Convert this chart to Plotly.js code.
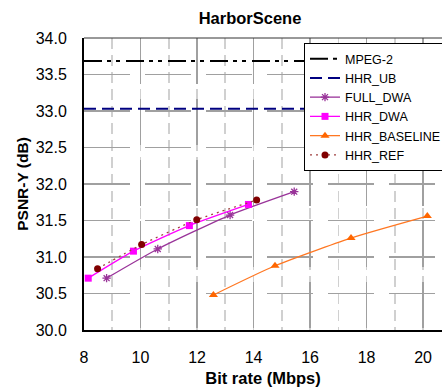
<!DOCTYPE html>
<html>
<head>
<meta charset="utf-8">
<script src="https://cdn.plot.ly/plotly-3.0.1.min.js"></script>
<style>html,body{margin:0;padding:0;background:#fff;}#chart{width:442px;height:387px;}</style>
</head>
<body>
<div id="chart"></div>
<script>
// Data
var refLineX = [8, 22];
var mpeg2Y = [33.685, 33.685];
var hhrUbY = [33.03, 33.03];

var fullDwaX = [8.80, 10.61, 13.17, 15.44];
var fullDwaY = [30.71, 31.11, 31.575, 31.895];

var hhrDwaX = [8.15, 9.75, 11.73, 13.82];
var hhrDwaY = [30.71, 31.08, 31.43, 31.72];

var baselineX = [12.58, 14.76, 17.45, 20.15];
var baselineY = [30.48, 30.88, 31.26, 31.56];

var hhrRefX = [8.48, 10.04, 11.99, 14.11];
var hhrRefY = [30.84, 31.17, 31.51, 31.78];

var xTicks = [8, 10, 12, 14, 16, 18, 20];
var yTicks = [30.0, 30.5, 31.0, 31.5, 32.0, 32.5, 33.0, 33.5, 34.0];

var FONT = 'Liberation Sans, Arial, Helvetica, sans-serif';

var traces = [
  {name: 'MPEG-2', x: refLineX, y: mpeg2Y, mode: 'lines',
   line: {color: '#000000', width: 2, dash: '18px,5px,4px,5px,4px,6px'}},
  {name: 'HHR_UB', x: refLineX, y: hhrUbY, mode: 'lines',
   line: {color: '#000080', width: 2, dash: '12px,6px'}},
  {name: 'FULL_DWA', x: fullDwaX, y: fullDwaY, mode: 'lines+markers',
   line: {color: '#993399', width: 1.3, shape: 'spline', smoothing: 0.6},
   marker: {symbol: 'asterisk-open', size: 7, color: '#993399', line: {color: '#993399', width: 1.3}}},
  {name: 'HHR_DWA', x: hhrDwaX, y: hhrDwaY, mode: 'lines+markers',
   line: {color: '#ff00ff', width: 1.3, shape: 'spline', smoothing: 0.6},
   marker: {symbol: 'square', size: 7, color: '#ff00ff'}},
  {name: 'HHR_BASELINE', x: baselineX, y: baselineY, mode: 'lines+markers',
   line: {color: '#ff7722', width: 1.3, shape: 'spline', smoothing: 0.6},
   marker: {symbol: 'triangle-up', size: 8, color: '#ff6600'}},
  {name: 'HHR_REF', x: hhrRefX, y: hhrRefY, mode: 'lines+markers',
   line: {color: '#a04040', width: 1.3, dash: '2px,4px', shape: 'spline', smoothing: 0.6},
   marker: {symbol: 'circle', size: 7, color: '#800000'}}
];

var layout = {
  width: 442, height: 387,
  margin: {l: 84, r: 0, t: 38, b: 57, autoexpand: false},
  paper_bgcolor: '#ffffff', plot_bgcolor: '#ffffff',
  font: {family: FONT, color: '#000000'},
  showlegend: true,
  title: {text: '<b>HarborScene</b>', font: {family: FONT, size: 16.5, color: '#000'},
          x: 250 / 442, xref: 'container', xanchor: 'center', y: 1 - 18 / 387, yref: 'container', yanchor: 'middle'},
  xaxis: {
    range: [8, 20.67], tickvals: xTicks, ticktext: xTicks.map(String),
    ticks: '', ticklabelstandoff: 12,
    tickfont: {family: FONT, size: 16, color: '#000'},
    showline: true, linecolor: '#000', linewidth: 2,
    showgrid: true, gridcolor: '#a0a0a0', gridwidth: 1.2, griddash: '46px,15px',
    minor: {dtick: 1, tick0: 8, showgrid: true, gridcolor: '#d0d0d0', gridwidth: 1.6, griddash: '11px,6px', ticks: ''},
    zeroline: false,
    title: {text: '<b>Bit rate (Mbps)</b>', font: {family: FONT, size: 16.5, color: '#000'}, standoff: 7}
  },
  yaxis: {
    range: [30, 34], tickvals: yTicks, ticktext: yTicks.map(function (v) { return v.toFixed(1); }),
    ticks: '', ticklabelstandoff: 12,
    tickfont: {family: FONT, size: 16, color: '#000'},
    showline: true, linecolor: '#000', linewidth: 2,
    showgrid: true, gridcolor: '#a0a0a0', gridwidth: 1.2, griddash: '46px,15px',
    zeroline: false,
    title: {text: '<b>PSNR-Y (dB)</b>', font: {family: FONT, size: 15.5, color: '#000'}, standoff: 3}
  },
  legend: {
    x: (304 - 84) / 358, y: (330 - 43) / 292, xanchor: 'left', yanchor: 'top',
    xref: 'paper', yref: 'paper',
    bgcolor: '#ffffff', bordercolor: '#000000', borderwidth: 1,
    font: {family: FONT, size: 12.5, color: '#000'},
    itemwidth: 30, tracegroupgap: 0
  },
  shapes: [
    {type: 'line', xref: 'paper', yref: 'paper', x0: 0, x1: 1, y0: 1, y1: 1,
     line: {color: '#333333', width: 1}}
  ]
};

Plotly.newPlot('chart', traces, layout, {displayModeBar: false, staticPlot: true});
</script>
</body>
</html>
